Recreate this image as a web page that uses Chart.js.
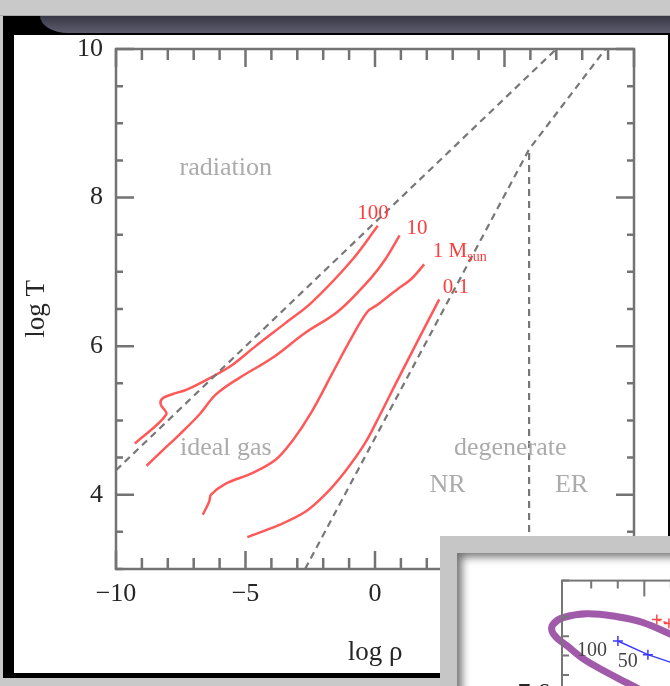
<!DOCTYPE html>
<html>
<head>
<meta charset="utf-8">
<title>log T - log rho</title>
<script src="https://cdn.jsdelivr.net/npm/chart.js@4.4.1/dist/chart.umd.min.js"></script>
<style>
  html, body { margin: 0; padding: 0; }
  body { width: 670px; height: 686px; background: #c9c9c9; position: relative; overflow: hidden; }
  .topLine { position: absolute; left: 0; top: 15px; width: 670px; height: 1px; background: #a8a8a8; }
  .frame { position: absolute; left: 3px; top: 16px; width: 667px; height: 662px; background: #000; }
  .band { position: absolute; left: 40px; top: 16px; width: 630px; height: 17px;
          background: linear-gradient(#383845, #5c5c6e); border-bottom-left-radius: 28px 17px; }
  .panel { position: absolute; left: 14px; top: 35px; width: 654px; height: 638px; background: #fff; }
  #mainChart { position: absolute; left: 0; top: 0; }
  .inset { position: absolute; left: 440px; top: 536px; width: 240px; height: 160px; background: #c6c6c6; }
  .insetPanel { position: absolute; left: 17px; top: 17px; width: 230px; height: 150px; background: #fff;
                overflow: hidden; box-shadow: inset 8px 7px 8px -3px rgba(0,0,0,0.55); }
  #insetChart { position: absolute; left: 0; top: 0; }
</style>
</head>
<body>
<div class="topLine"></div>
<div class="frame"></div>
<div class="band"></div>
<div class="panel"></div>
<canvas id="mainChart" width="670" height="686"></canvas>
<div class="inset">
  <div class="insetPanel">
    <canvas id="insetChart" width="380" height="300"></canvas>
  </div>
</div>

<script>
const SERIF = "'Liberation Serif', 'DejaVu Serif', serif";

// boundaries between the pressure regimes, [log rho, log T]
const radiationGasLine = [[-10, 4.33], [7, 10]];
const degeneracyLine = [[-2.7, 3], [5.95, 8.65], [8.9, 10]];
const relativisticLine = [[5.95, 8.6], [5.95, 3]];

// central tracks for 100, 10, 1 and 0.1 solar masses
const track100 = [[-9.27, 4.69], [-8.06, 5.08], [-8.28, 5.22], [-8.19, 5.30], [-7.67, 5.37], [-7.29, 5.41],
  [-6.27, 5.59], [-5.5, 5.75], [-4.61, 6.0], [-3.46, 6.31], [-2.44, 6.59], [-0.91, 7.15], [0.11, 7.62]];
const track10 = [[-8.82, 4.39], [-8.25, 4.58], [-7.55, 4.81], [-6.78, 5.08], [-6.14, 5.35], [-5.25, 5.57],
  [-3.97, 5.84], [-2.69, 6.18], [-1.42, 6.47], [-0.2, 6.9], [0.4, 7.17], [0.95, 7.49]];
const track1 = [[-6.65, 3.73], [-6.4, 3.91], [-6.33, 4.0], [-5.76, 4.15], [-4.74, 4.29], [-3.84, 4.47],
  [-3.2, 4.72], [-2.44, 5.12], [-1.67, 5.62], [-0.91, 6.11], [-0.3, 6.46], [0.11, 6.56], [0.88, 6.77],
  [1.39, 6.9], [1.9, 7.1]];
const track01 = [[-4.93, 3.43], [-3.72, 3.59], [-2.69, 3.77], [-1.93, 4.0], [-1.16, 4.31], [-0.39, 4.69],
  [0.2, 5.08], [0.88, 5.55], [2.48, 6.63]];

// text placed in data coordinates
const regionLabels = [['radiation', -5.76, 8.39], ['ideal gas', -5.76, 4.63], ['degenerate', 5.22, 4.63],
  ['NR', 2.8, 4.13], ['ER', 7.59, 4.13]];
const massLabels = [['100', -0.08, 7.79, ''], ['10', 1.62, 7.58, ''], ['1 M', 3.27, 7.28, 'sun'], ['0.1', 3.12, 6.79, '']];

// small panel in the corner
const ringPath = [[12.3, 7.75], [9.89, 7.785], [7.94, 7.8], [5.68, 7.8075], [3.88, 7.7975], [3.12, 7.78],
  [3.05, 7.7625], [3.42, 7.745], [4.18, 7.725], [5.38, 7.6925], [6.88, 7.6625], [8.69, 7.63], [10.42, 7.6]];
const blueTrack = [[8.01, 7.7375], [10.27, 7.7025], [12.67, 7.675]];
const redTrack = [[10.94, 7.7925], [11.85, 7.7825]];
const insetLabels = [['100', 6.06, 7.7125], ['50', 8.76, 7.685]];

const toXY = (pairs) => pairs.map(p => ({ x: p[0], y: p[1] }));
const isMultiple = (v, step) => Math.abs(v / step - Math.round(v / step)) < 1e-6;
const fmtMinus = (v) => (v < 0 ? '\u2212' + Math.abs(v) : String(v));

// frame on all four sides with inward ticks
const boxAxes = {
  id: 'boxAxes',
  afterDatasetsDraw(chart, args, opts) {
    const { ctx, chartArea: a, scales: { x, y } } = chart;
    ctx.save();
    ctx.strokeStyle = opts.color;
    ctx.lineWidth = opts.width;
    ctx.beginPath();
    x.ticks.forEach(t => {
      const px = x.getPixelForValue(t.value);
      const len = isMultiple(t.value, opts.majorX) ? opts.majorLen : opts.minorLenX;
      ctx.moveTo(px, a.bottom); ctx.lineTo(px, a.bottom - len);
      ctx.moveTo(px, a.top); ctx.lineTo(px, a.top + len);
    });
    y.ticks.forEach(t => {
      const py = y.getPixelForValue(t.value);
      const len = isMultiple(t.value, opts.majorY) ? opts.majorLen : opts.minorLenY;
      ctx.moveTo(a.left, py); ctx.lineTo(a.left + len, py);
      ctx.moveTo(a.right, py); ctx.lineTo(a.right - len, py);
    });
    ctx.stroke();
    ctx.strokeRect(a.left, a.top, a.right - a.left, a.bottom - a.top);
    ctx.restore();
  }
};

// region names and mass labels
const chartText = {
  id: 'chartText',
  afterDatasetsDraw(chart, args, opts) {
    const { ctx, scales: { x, y } } = chart;
    const subSize = Math.round(opts.size * 0.68);
    ctx.save();
    ctx.textBaseline = 'middle';
    ctx.textAlign = 'left';
    (opts.items || []).forEach(item => {
      const [text, vx, vy, sub] = item;
      ctx.font = opts.size + 'px ' + SERIF;
      const w = ctx.measureText(text).width;
      let sw = 0;
      if (sub) {
        ctx.font = subSize + 'px ' + SERIF;
        sw = ctx.measureText(sub).width;
      }
      const px = x.getPixelForValue(vx) - (w + sw) / 2;
      const py = y.getPixelForValue(vy);
      ctx.fillStyle = opts.color;
      ctx.font = opts.size + 'px ' + SERIF;
      ctx.fillText(text, px, py);
      if (sub) {
        ctx.font = subSize + 'px ' + SERIF;
        ctx.fillText(sub, px + w, py + opts.size * 0.3);
      }
    });
    ctx.restore();
  }
};

// second text layer for the red mass labels
const massText = Object.assign({}, chartText, { id: 'massText' });

const dashed = (pairs) => ({
  data: toXY(pairs), borderColor: '#777', borderWidth: 2.2, borderDash: [7, 5],
  pointRadius: 0, tension: 0, order: 1
});
const track = (pairs) => ({
  data: toXY(pairs), borderColor: 'rgb(255,88,88)', borderWidth: 2.5,
  pointRadius: 0, tension: 0.35, order: 2
});

new Chart(document.getElementById('mainChart'), {
  type: 'line',
  data: {
    datasets: [
      dashed(radiationGasLine), dashed(degeneracyLine), dashed(relativisticLine),
      track(track100), track(track10), track(track1), track(track01)
    ]
  },
  options: {
    responsive: false,
    animation: false,
    devicePixelRatio: 1,
    layout: { padding: { top: 49, right: 36, left: 0, bottom: 0 } },
    scales: {
      x: {
        type: 'linear', min: -10, max: 10,
        grid: { display: false, drawTicks: false }, border: { display: false },
        ticks: {
          stepSize: 1, autoSkip: false, maxRotation: 0, padding: 10, color: '#262626',
          font: { family: SERIF, size: 26 },
          callback: (v) => (isMultiple(v, 5) ? fmtMinus(v) : '')
        },
        title: { display: true, text: 'log \u03c1', color: '#262626', font: { family: SERIF, size: 27 }, padding: { top: 0, bottom: 17 } },
        afterFit: (s) => { s.height = 117; }
      },
      y: {
        type: 'linear', min: 3, max: 10,
        grid: { display: false, drawTicks: false }, border: { display: false },
        ticks: {
          stepSize: 0.5, autoSkip: false, padding: 13, color: '#262626',
          font: { family: SERIF, size: 26 },
          callback: (v) => (isMultiple(v, 2) ? fmtMinus(v) : '')
        },
        title: { display: true, text: 'log T', color: '#262626', font: { family: SERIF, size: 27 }, padding: { top: 21, bottom: 0 } },
        afterFit: (s) => { s.width = 116; }
      }
    },
    plugins: {
      legend: { display: false },
      tooltip: { enabled: false },
      boxAxes: { color: '#737373', width: 2.5, majorX: 5, majorY: 2, majorLen: 18, minorLenX: 11, minorLenY: 7 },
      chartText: { items: regionLabels, color: '#ababab', size: 26 },
      massText: { items: massLabels, color: '#ff3c3c', size: 21 }
    }
  },
  plugins: [boxAxes, chartText, massText]
});

// corner panel
new Chart(document.getElementById('insetChart'), {
  type: 'line',
  data: {
    datasets: [
      { data: toXY(blueTrack), borderColor: '#3b3bff', borderWidth: 1.5, pointStyle: 'cross', pointRadius: 5,
        pointBorderColor: '#3b3bff', pointBorderWidth: 1.5, tension: 0, clip: false, order: 1 },
      { data: toXY(redTrack), borderColor: '#ff4a4a', borderWidth: 1.5, borderDash: [4, 3], pointStyle: 'cross', pointRadius: 5,
        pointBorderColor: '#ff4a4a', pointBorderWidth: 1.5, tension: 0, clip: false, order: 1 },
      { data: toXY(ringPath), borderColor: 'rgba(145,60,155,0.85)', borderWidth: 7, pointRadius: 0,
        tension: 0.4, clip: false, order: 2 }
    ]
  },
  options: {
    responsive: false,
    animation: false,
    devicePixelRatio: 1,
    layout: { padding: { top: 19, right: 40, left: 0, bottom: 61 } },
    scales: {
      x: { type: 'linear', min: 3.8, max: 21.5, display: false, ticks: { stepSize: 1 } },
      y: {
        type: 'linear', min: 7.35, max: 7.8925,
        grid: { display: false, drawTicks: false }, border: { display: false },
        ticks: {
          stepSize: 0.05, autoSkip: false, padding: 12, color: '#262626',
          font: { family: SERIF, size: 26 },
          callback: (v) => (isMultiple(v, 0.4) ? v.toFixed(1) : '')
        },
        afterFit: (s) => { s.width = 105; }
      }
    },
    plugins: {
      legend: { display: false },
      tooltip: { enabled: false },
      boxAxes: { color: '#767676', width: 2, majorX: 5, majorY: 0.4, majorLen: 16, minorLenX: 8, minorLenY: 7 },
      chartText: { items: insetLabels, color: '#444', size: 20 }
    }
  },
  plugins: [boxAxes, chartText]
});
</script>
</body>
</html>
